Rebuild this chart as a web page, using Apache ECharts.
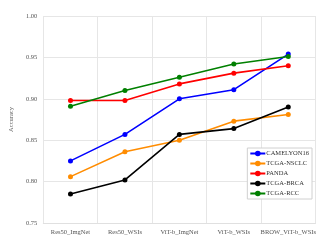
<!DOCTYPE html>
<html><head><meta charset="utf-8">
<script src="https://cdn.jsdelivr.net/npm/echarts@6/dist/echarts.min.js"></script>
<style>html,body{margin:0;padding:0;background:#fff}#c{width:323px;height:250px}</style>
</head><body><div id="c"></div>
<script>
var categories = ['Res50_ImgNet','Res50_WSIs','ViT-b_ImgNet','ViT-b_WSIs','BROW_ViT-b_WSIs'];
var camelyon16 = [0.825,0.857,0.900,0.911,0.954];
var tcgaNsclc = [0.806,0.836,0.850,0.873,0.881];
var panda = [0.898,0.898,0.918,0.931,0.940];
var tcgaBrca = [0.785,0.802,0.857,0.864,0.890];
var tcgaRcc = [0.891,0.910,0.926,0.942,0.951];
var seriesNames = ['CAMELYON16','TCGA-NSCLC','PANDA','TCGA-BRCA','TCGA-RCC'];
var seriesData = [camelyon16,tcgaNsclc,panda,tcgaBrca,tcgaRcc];
var colors = ['#0000ff','#ff8c00','#ff0000','#000000','#008000'];
var font = '"Liberation Serif","DejaVu Serif",serif';
var chart = echarts.init(document.getElementById('c'));
chart.setOption({
  animation:false,
  textStyle:{fontFamily:font},
  grid:{left:36.5,right:7.5,top:16,bottom:27},
  legend:{
    orient:'vertical', right:11, top:148,
    backgroundColor:'#fff', borderColor:'#d0d0d0', borderWidth:1, borderRadius:0,
    padding:[2,3,2,2], itemGap:3, itemWidth:15, itemHeight:7,
    textStyle:{fontFamily:font,fontSize:6.5,color:'#333',padding:[0,0,0,-4]},
    data:seriesNames
  },
  xAxis:{
    type:'category', data:categories, boundaryGap:true,
    axisLine:{show:true,lineStyle:{color:'#e0e0e0'}},
    axisTick:{show:false},
    splitLine:{show:true,interval:0,lineStyle:{color:'#e6e6e6',width:1}},
    axisLabel:{fontFamily:font,fontSize:6.5,color:'#555',margin:6,interval:0}
  },
  yAxis:{
    type:'value', min:0.75, max:1.0, interval:0.05,
    name:'Accuracy', nameLocation:'middle', nameGap:22,
    nameTextStyle:{fontFamily:font,fontSize:6.5,color:'#555'},
    axisLine:{show:false}, axisTick:{show:false},
    splitLine:{lineStyle:{color:'#e6e6e6',width:1}},
    axisLabel:{fontFamily:font,fontSize:6.5,color:'#555',margin:6,formatter:function(v){return v.toFixed(2);}}
  },
  series:seriesNames.map(function(n,i){return {
    name:n,type:'line',data:seriesData[i],symbol:'circle',symbolSize:5,
    lineStyle:{color:colors[i],width:1.6},itemStyle:{color:colors[i]}
  };})
});
</script></body></html>
